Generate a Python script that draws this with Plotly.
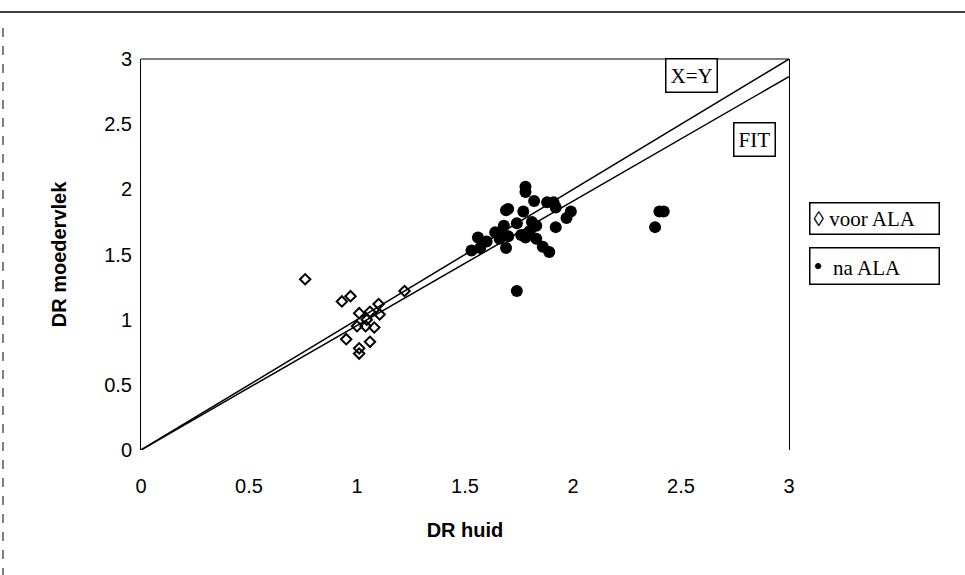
import plotly.graph_objects as go

# voor ALA (open diamonds)
voor_x = [0.76, 0.93, 0.97, 1.22, 1.01, 1.10, 1.105, 1.06, 1.045, 1.00, 1.04, 1.08, 0.95, 1.06, 1.01, 1.01]
voor_y = [1.31, 1.14, 1.18, 1.22, 1.05, 1.12, 1.04, 1.06, 1.00, 0.95, 0.95, 0.94, 0.85, 0.83, 0.78, 0.74]

# na ALA (filled circles)
na_x = [1.78, 1.78, 1.82, 1.70, 1.69, 1.77, 1.88, 1.91, 1.92, 1.99, 1.97, 1.92, 1.68, 1.74, 1.81,
        1.83, 1.64, 1.70, 1.76, 1.80, 1.78, 1.83, 1.56, 1.60, 1.66, 1.53, 1.57, 1.69, 1.86, 1.89,
        1.74, 1.67, 2.38, 2.40, 2.42]
na_y = [2.02, 1.98, 1.91, 1.85, 1.84, 1.83, 1.90, 1.90, 1.86, 1.83, 1.78, 1.71, 1.72, 1.74, 1.75,
        1.72, 1.67, 1.64, 1.65, 1.68, 1.63, 1.62, 1.63, 1.60, 1.62, 1.53, 1.55, 1.55, 1.56, 1.52,
        1.22, 1.67, 1.71, 1.83, 1.83]

# reference lines
line_x = [0, 3]
xy_y = [0, 3]
fit_slope = 0.955
fit_y = [0, 3 * fit_slope]

x_ticks = [0, 0.5, 1, 1.5, 2, 2.5, 3]
y_ticks = [0, 0.5, 1, 1.5, 2, 2.5, 3]

fig = go.Figure()
fig.add_trace(go.Scatter(x=line_x, y=xy_y, mode="lines", line=dict(color="black", width=1.5),
                         showlegend=False, hoverinfo="skip"))
fig.add_trace(go.Scatter(x=line_x, y=fit_y, mode="lines", line=dict(color="black", width=1.5),
                         showlegend=False, hoverinfo="skip"))
fig.add_trace(go.Scatter(x=voor_x, y=voor_y, mode="markers", name="voor ALA",
                         marker=dict(symbol="diamond-open", size=8, color="black",
                                     line=dict(color="black", width=2)),
                         showlegend=False))
fig.add_trace(go.Scatter(x=na_x, y=na_y, mode="markers", name="na ALA",
                         marker=dict(symbol="circle", size=12, color="black"),
                         showlegend=False))

axis_font = dict(family="Liberation Sans, Arial", size=20, color="black")
title_font = dict(family="Liberation Sans, Arial", size=20, color="black")

fig.update_xaxes(range=[0, 3], tickvals=x_ticks, ticktext=[f"{v:g}" for v in x_ticks],
                 showgrid=False, zeroline=False, showline=False,
                 ticks="", tickfont=axis_font, ticklabelstandoff=22,
                 title=dict(text="<b>DR huid</b>", font=title_font, standoff=26))
fig.update_yaxes(range=[0, 3], tickvals=y_ticks, ticktext=[f"{v:g}" for v in y_ticks],
                 showgrid=False, zeroline=False, showline=True, linecolor="black", linewidth=1,
                 mirror=True, ticks="", tickfont=axis_font, ticklabelstandoff=4,
                 title=dict(text="<b>DR moedervlek</b>", font=title_font, standoff=32))

serif = dict(family="Liberation Serif, Times New Roman", size=21, color="black")
annotations = [
    dict(x=2.55, y=2.87, xref="x", yref="y", text="X=Y", showarrow=False, font=serif,
         xanchor="center", yanchor="middle",
         bordercolor="black", borderwidth=1.5, borderpad=4, bgcolor="white"),
    dict(x=2.84, y=2.38, xref="x", yref="y", text="FIT", showarrow=False, font=serif,
         xanchor="center", yanchor="middle",
         bordercolor="black", borderwidth=1.5, borderpad=4, bgcolor="white"),
    dict(x=(874 - 141) / 648, y=(450 - 218) / 391, xref="paper", yref="paper",
         text="◊ voor ALA", showarrow=False, font=serif, width=122, align="left",
         xanchor="center", yanchor="middle",
         bordercolor="black", borderwidth=1.5, borderpad=3, bgcolor="white"),
    dict(x=(874 - 141) / 648, y=(450 - 266) / 391, xref="paper", yref="paper",
         text="<span style='font-size:26px'>•</span>  na ALA", showarrow=False, font=serif,
         width=122, align="left", xanchor="center", yanchor="middle",
         bordercolor="black", borderwidth=1.5, borderpad=3, bgcolor="white"),
]

shapes = [
    # top border of plot area
    dict(type="line", xref="paper", yref="paper", x0=0, x1=1, y0=1, y1=1,
         line=dict(color="black", width=1.2)),
    # outer frame top line and dashed left edge
    dict(type="line", xref="paper", yref="paper", x0=-0.2176, x1=1.2716,
         y0=(450 - 12) / 391, y1=(450 - 12) / 391, line=dict(color="black", width=1.5)),
    dict(type="line", xref="paper", yref="paper", x0=(3 - 141) / 648, x1=(3 - 141) / 648,
         y0=(450 - 28) / 391, y1=(450 - 575) / 391, line=dict(color="black", width=1, dash="dash")),
]

fig.update_layout(
    width=965, height=575,
    margin=dict(l=141, r=176, t=59, b=125),
    plot_bgcolor="white", paper_bgcolor="white",
    annotations=annotations, shapes=shapes,
    showlegend=False,
)

fig.write_html("out.html")
